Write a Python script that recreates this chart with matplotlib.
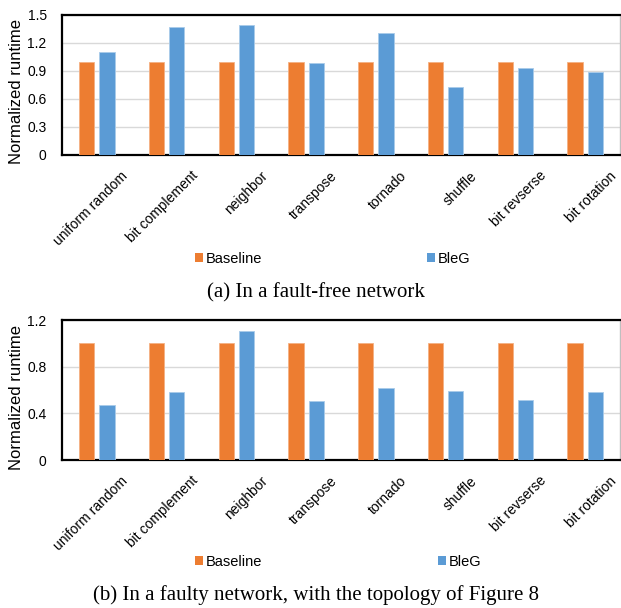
import numpy as np
import matplotlib
matplotlib.use("Agg")
import matplotlib.pyplot as plt
from matplotlib.patches import Patch
from matplotlib.transforms import ScaledTranslation

plt.rcParams["font.family"] = ["Liberation Sans", "DejaVu Sans"]

patterns = ["uniform random", "bit complement", "neighbor", "transpose",
            "tornado", "shuffle", "bit revserse", "bit rotation"]

baseline_free = [1.0, 1.0, 1.0, 1.0, 1.0, 1.0, 1.0, 1.0]
bleg_free = [1.10, 1.37, 1.39, 0.99, 1.31, 0.725, 0.93, 0.89]

baseline_faulty = [1.0, 1.0, 1.0, 1.0, 1.0, 1.0, 1.0, 1.0]
bleg_faulty = [0.47, 0.58, 1.11, 0.51, 0.62, 0.59, 0.515, 0.58]

ORANGE = "#ED7D31"
BLUE = "#5B9BD5"
DPI = 100


def draw_panel(ax, base, bleg, ymax, yticks, ytick_labels):
    x = np.arange(len(patterns))
    w = 0.22
    ax.bar(x - 0.145, base, w, color=ORANGE, edgecolor="#F4B183", linewidth=0.6, zorder=3)
    ax.bar(x + 0.145, bleg, w, color=BLUE, edgecolor="#A9CBEA", linewidth=0.6, zorder=3)
    ax.set_xlim(-0.5, len(patterns) - 0.5)
    ax.set_ylim(0, ymax)
    ax.set_yticks(yticks)
    ax.set_yticklabels(ytick_labels, fontsize=10)
    ax.yaxis.grid(True, color="#D9D9D9", linewidth=1.0, zorder=0)
    ax.set_axisbelow(True)
    ax.tick_params(axis="y", length=0, pad=11)
    ax.tick_params(axis="x", length=0, pad=2)
    ax.set_xticks(x)
    ax.set_xticklabels(patterns, rotation=45, ha="right", va="top",
                       rotation_mode="anchor", fontsize=10)
    # push the slanted category names right and down a bit
    shift = ScaledTranslation(24 / DPI, -11 / DPI, ax.figure.dpi_scale_trans)
    for lbl in ax.get_xticklabels():
        lbl.set_transform(lbl.get_transform() + shift)
    for side in ["top", "bottom", "left"]:
        ax.spines[side].set_color("black")
        ax.spines[side].set_linewidth(1.6)
    ax.spines["right"].set_color("#BFBFBF")
    ax.spines["right"].set_linewidth(1.0)
    ax.set_ylabel("Normalized runtime", fontsize=12)
    ax.yaxis.set_label_coords(-0.068, 0.45)


fig = plt.figure(figsize=(6.21, 6.08), dpi=DPI)
ax1 = fig.add_axes([62 / 621, 1 - 155 / 608, 558 / 621, 140 / 608])
ax2 = fig.add_axes([62 / 621, 1 - 460 / 608, 558 / 621, 140 / 608])

draw_panel(ax1, baseline_free, bleg_free, 1.5,
           [0, 0.3, 0.6, 0.9, 1.2, 1.5], ["0", "0.3", "0.6", "0.9", "1.2", "1.5"])
draw_panel(ax2, baseline_faulty, bleg_faulty, 1.2,
           [0, 0.4, 0.8, 1.2], ["0", "0.4", "0.8", "1.2"])

# legend entries sit far apart, so each one gets its own legend box
entries = [
    (259, [("Baseline", ORANGE, 195), ("BleG", BLUE, 427)]),
    (562, [("Baseline", ORANGE, 195), ("BleG", BLUE, 438)]),
]
for y, items in entries:
    for name, color, xpos in items:
        fig.legend([Patch(facecolor=color)], [name], frameon=False,
                   loc="center left", bbox_to_anchor=(xpos / 621, 1 - y / 608),
                   fontsize=10.5, handlelength=0.55, handleheight=0.55,
                   handletextpad=0.2, borderpad=0, borderaxespad=0)

fig.text(316 / 621, 1 - 297 / 608, "(a) In a fault-free network",
         ha="center", va="baseline", fontsize=15, family="Liberation Serif")
fig.text(316 / 621, 1 - 600 / 608, "(b) In a faulty network, with the topology of Figure 8",
         ha="center", va="baseline", fontsize=15, family="Liberation Serif")

fig.savefig("out.png", dpi=DPI)
